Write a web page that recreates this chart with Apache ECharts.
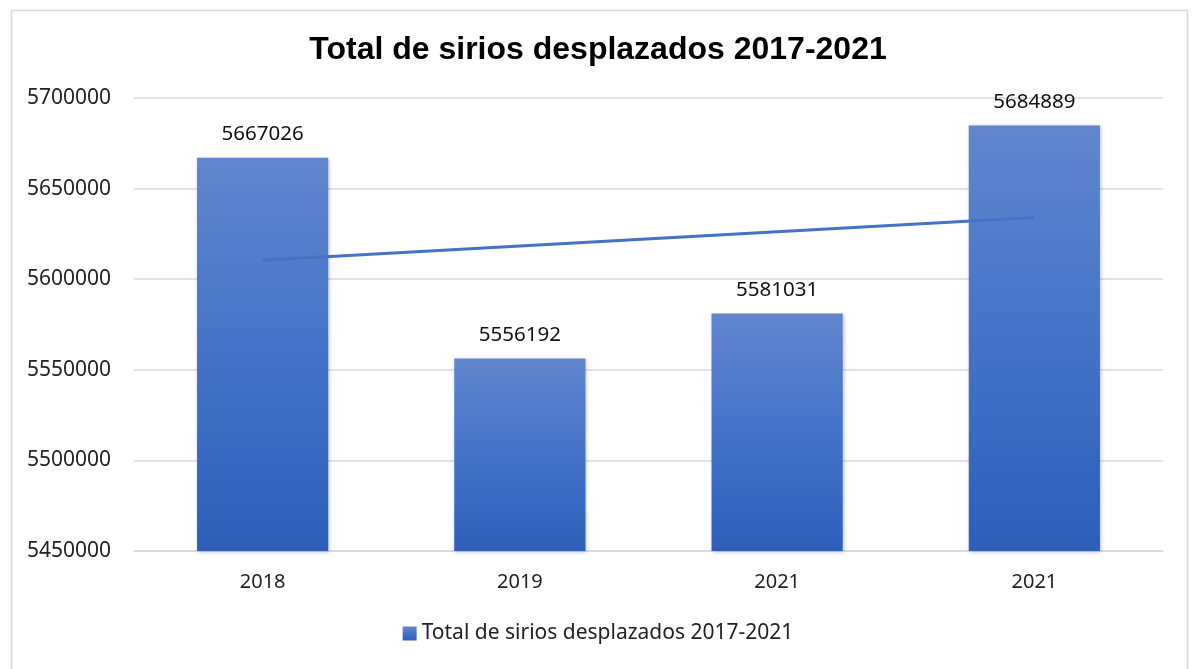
<!DOCTYPE html>
<html>
<head>
<meta charset="utf-8">
<script src="https://cdn.jsdelivr.net/npm/echarts@6/dist/echarts.min.js"></script>
<style>
html,body{margin:0;padding:0;background:#fff;}
#chart{width:1196px;height:669px;}
</style>
</head>
<body>
<div id="chart"></div>
<script>
const titleText = 'Total de sirios desplazados 2017-2021';
const categories = ['2018', '2019', '2021', '2021'];
const values = [5667026, 5556192, 5581031, 5684889];
const trendValues = [5610520, 5618363, 5626206, 5634049];
const yTicks = {min: 5450000, max: 5700000, interval: 50000};

const chart = echarts.init(document.getElementById('chart'));
const font = "'Noto Sans', 'Open Sans', sans-serif";
chart.setOption({
  animation: false,
  backgroundColor: '#fff',
  graphic: [{
    type: 'rect', left: 9, top: 8, silent: true,
    shape: {width: 1176, height: 680},
    style: {fill: 'none', stroke: '#d9d9d9', lineWidth: 1.5}
  }],
  title: {
    text: titleText, left: 'center', top: 29,
    textStyle: {fontFamily: "'Liberation Sans', Arial, sans-serif", fontWeight: 'bold', fontSize: 32, color: '#000'}
  },
  grid: {left: 134, right: 33, top: 98, bottom: 118},
  legend: {
    bottom: 20, left: 'center',
    data: [titleText],
    icon: 'rect', itemWidth: 14, itemHeight: 14, itemGap: 6,
    textStyle: {fontFamily: font, fontSize: 21, color: '#222'}
  },
  xAxis: {
    type: 'category', data: categories,
    axisLine: {show: true, lineStyle: {color: '#d9d9d9', width: 1.5}},
    axisTick: {show: false},
    axisLabel: {fontFamily: font, fontSize: 20, color: '#222', margin: 21}
  },
  yAxis: {
    type: 'value', min: yTicks.min, max: yTicks.max, interval: yTicks.interval,
    axisLine: {show: false}, axisTick: {show: false},
    axisLabel: {fontFamily: font, fontSize: 21, color: '#222', margin: 23, formatter: v => String(v)},
    splitLine: {lineStyle: {color: '#d9d9d9', width: 1.5}}
  },
  series: [{
    name: titleText, type: 'bar', data: values, barWidth: '51%',
    itemStyle: {
      color: new echarts.graphic.LinearGradient(0, 0, 0, 1, [
        {offset: 0, color: '#6186cd'},
        {offset: 0.5, color: '#4473c8'},
        {offset: 1, color: '#2d5fba'}
      ]),
      shadowColor: 'rgba(0,0,0,0.25)', shadowBlur: 4, shadowOffsetX: 1, shadowOffsetY: 1
    },
    label: {show: true, position: 'top', distance: 13, fontFamily: font, fontSize: 20.5, color: '#111'}
  }, {
    name: 'trend', type: 'line', data: trendValues, symbol: 'none', z: 5,
    lineStyle: {color: '#4472c4', width: 3}
  }]
});
</script>
</body>
</html>
